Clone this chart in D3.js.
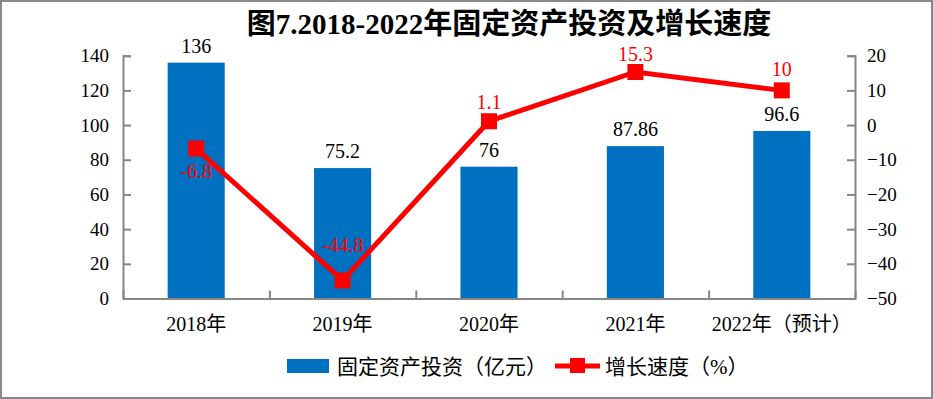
<html>
<meta charset="utf-8" />
<head>
<title>固定资产投资及增长速度</title>
<style>
body { margin: 0; background: #fff; }
svg { display: block; }
svg text {
  font-family: "Liberation Serif", "Noto Sans CJK SC", serif;
  fill: #000;
}
.axis path, .axis line { stroke: #868686; stroke-width: 2px; }
.axis text { font-size: 19px; }
</style>
<script src="https://d3js.org/d3.v7.min.js" charset="utf-8"></script>
</head>
<body>
<svg class="chart"></svg>
<script>
var chartWidth = 933;
var chartHeight = 399;

/********
 * Data *
 ********/
var years = ["2018年", "2019年", "2020年", "2021年", "2022年（预计）"];
var investment = [136, 75.2, 76, 87.86, 96.6];
var growth = [-6.8, -44.8, 1.1, 15.3, 10];
var growthLabels = ["-6.8", "-44.8", "1.1", "15.3", "10"];
// label offset from the marker (px)
var growthLabelDy = [29, -28, -12, -11, -14];
var leftTicks = [0, 20, 40, 60, 80, 100, 120, 140];
var rightTicks = [-50, -40, -30, -20, -10, 0, 10, 20];

var titleText = "图7.2018-2022年固定资产投资及增长速度";
var legendNames = ["固定资产投资（亿元）", "增长速度（%）"];

var barColor = "#0070C0";
var lineColor = "#FF0000";

/**********
 * Scales *
 **********/
var plotLeft = 123, plotRight = 855, plotTop = 55.7, plotBottom = 298.5;

var x = d3.scaleBand()
    .domain(years)
    .range([plotLeft, plotRight])
    .paddingInner(0.61)
    .paddingOuter(0.305);

var xTicks = d3.scaleLinear()
    .domain([0, years.length])
    .range([plotLeft, plotRight]);

var y = d3.scaleLinear()
    .domain([0, 140])
    .range([plotBottom, plotTop]);

var y2 = d3.scaleLinear()
    .domain([-50, 20])
    .range([plotBottom, plotTop]);

function cx(i) { return x(years[i]) + x.bandwidth() / 2; }

/**************
 * Make Chart *
 **************/
var svg = d3.select(".chart")
    .attr("width", chartWidth)
    .attr("height", chartHeight);

// outer frame
svg.append("rect")
    .attr("x", 1).attr("y", 1)
    .attr("width", chartWidth - 2).attr("height", chartHeight - 2)
    .attr("fill", "#fff")
    .attr("stroke", "#898989")
    .attr("stroke-width", 2);

// title
svg.append("text")
    .attr("x", 509)
    .attr("y", 34)
    .style("font-size", "29px")
    .style("font-weight", "bold")
    .style("text-anchor", "middle")
    .text(titleText);

// bars
svg.selectAll(".bar")
    .data(investment)
  .enter().append("rect")
    .attr("class", "bar")
    .attr("x", function(d, i) { return x(years[i]); })
    .attr("y", function(d) { return y(d); })
    .attr("width", x.bandwidth())
    .attr("height", function(d) { return plotBottom - y(d); })
    .attr("fill", barColor);

// axes
var leftAxis = d3.axisLeft(y)
    .tickValues(leftTicks)
    .tickSize(-8)
    .tickPadding(14);
svg.append("g")
    .attr("class", "axis")
    .attr("transform", "translate(" + plotLeft + ",0)")
    .call(leftAxis);

var rightAxis = d3.axisRight(y2)
    .tickValues(rightTicks)
    .tickSize(-8)
    .tickPadding(12);
svg.append("g")
    .attr("class", "axis")
    .attr("transform", "translate(" + plotRight + ",0)")
    .call(rightAxis);

var bottomAxis = d3.axisBottom(xTicks)
    .tickValues(d3.range(years.length + 1))
    .tickSize(-8)
    .tickSizeOuter(0)
    .tickFormat("");
svg.append("g")
    .attr("class", "axis")
    .attr("transform", "translate(0," + plotBottom + ")")
    .call(bottomAxis);

svg.selectAll(".axis text").style("font-size", "19px");
svg.selectAll(".axis .domain").attr("fill", "none");

// category labels
svg.selectAll(".xlabel")
    .data(years)
  .enter().append("text")
    .attr("class", "xlabel")
    .attr("x", function(d, i) { return cx(i); })
    .attr("y", 331)
    .style("font-size", "20px")
    .style("text-anchor", "middle")
    .text(function(d) { return d; });

// bar value labels
svg.selectAll(".barlabel")
    .data(investment)
  .enter().append("text")
    .attr("class", "barlabel")
    .attr("x", function(d, i) { return cx(i); })
    .attr("y", function(d) { return y(d) - 10; })
    .style("font-size", "20px")
    .style("text-anchor", "middle")
    .text(function(d) { return d; });

// growth line
var line = d3.line()
    .x(function(d, i) { return cx(i); })
    .y(function(d) { return y2(d); });

svg.append("path")
    .datum(growth)
    .attr("d", line)
    .attr("fill", "none")
    .attr("stroke", lineColor)
    .attr("stroke-width", 5);

svg.selectAll(".marker")
    .data(growth)
  .enter().append("rect")
    .attr("class", "marker")
    .attr("x", function(d, i) { return cx(i) - 8; })
    .attr("y", function(d) { return y2(d) - 8; })
    .attr("width", 16)
    .attr("height", 16)
    .attr("fill", lineColor);

svg.selectAll(".linelabel")
    .data(growth)
  .enter().append("text")
    .attr("class", "linelabel")
    .attr("x", function(d, i) { return cx(i); })
    .attr("y", function(d, i) { return y2(d) + growthLabelDy[i]; })
    .style("font-size", "20px")
    .style("text-anchor", "middle")
    .style("fill", lineColor)
    .text(function(d, i) { return growthLabels[i]; });

/**********
 * Legend *
 **********/
var legend = svg.append("g").attr("class", "legend");

legend.append("rect")
    .attr("x", 287).attr("y", 359)
    .attr("width", 42).attr("height", 14)
    .attr("fill", barColor);

legend.append("text")
    .attr("x", 337).attr("y", 374)
    .style("font-size", "21px")
    .text(legendNames[0]);

legend.append("line")
    .attr("x1", 555).attr("x2", 600)
    .attr("y1", 366).attr("y2", 366)
    .attr("stroke", lineColor)
    .attr("stroke-width", 5);

legend.append("rect")
    .attr("x", 570).attr("y", 358)
    .attr("width", 15).attr("height", 15)
    .attr("fill", lineColor);

legend.append("text")
    .attr("x", 605).attr("y", 374)
    .style("font-size", "21px")
    .text(legendNames[1]);
</script>
</body>
</html>
